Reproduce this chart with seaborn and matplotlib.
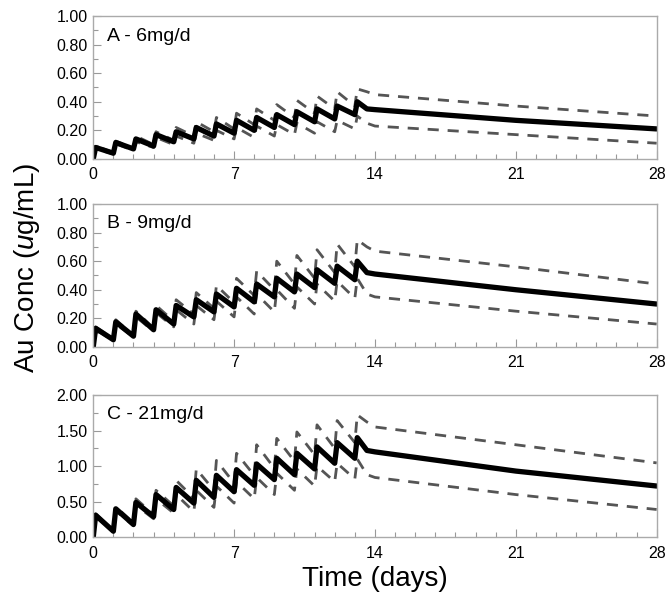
# Simulated gold (Au) plasma concentration, three dose levels
import numpy as np
import pandas as pd
import matplotlib
matplotlib.use("Agg")
import matplotlib.pyplot as plt
import seaborn as sns
from matplotlib.ticker import MultipleLocator, FormatStrFormatter

# ---- data ----
DOSE_DAYS = list(range(14))        # one dose per day, days 0..13
TAIL_DAYS = [13.6, 14, 21, 28]     # washout after the last dose

# panel A - 6 mg/d
A_MID_PEAK = [0.08, 0.115, 0.14, 0.17, 0.19, 0.22, 0.245, 0.27, 0.29, 0.31, 0.33, 0.35, 0.37, 0.40]
A_MID_TROUGH = [0.04, 0.07, 0.09, 0.12, 0.14, 0.16, 0.18, 0.20, 0.22, 0.24, 0.26, 0.28, 0.31]
A_MID_TAIL = [0.35, 0.345, 0.27, 0.21]
A_UP_PEAK = [0.09, 0.125, 0.16, 0.19, 0.22, 0.26, 0.29, 0.32, 0.35, 0.38, 0.41, 0.44, 0.47, 0.49]
A_UP_TROUGH = [0.045, 0.075, 0.10, 0.13, 0.16, 0.19, 0.21, 0.24, 0.27, 0.29, 0.32, 0.35, 0.37]
A_UP_TAIL = [0.47, 0.45, 0.37, 0.30]
A_LO_PEAK = [0.07, 0.105, 0.12, 0.15, 0.16, 0.18, 0.20, 0.22, 0.23, 0.24, 0.25, 0.26, 0.27, 0.30]
A_LO_TROUGH = [0.035, 0.06, 0.08, 0.10, 0.11, 0.13, 0.14, 0.15, 0.16, 0.17, 0.18, 0.19, 0.21]
A_LO_TAIL = [0.25, 0.23, 0.17, 0.11]

# panel B - 9 mg/d
B_MID_PEAK = [0.13, 0.175, 0.23, 0.26, 0.29, 0.33, 0.37, 0.41, 0.44, 0.48, 0.51, 0.54, 0.565, 0.60]
B_MID_TROUGH = [0.05, 0.075, 0.12, 0.16, 0.21, 0.245, 0.28, 0.315, 0.35, 0.385, 0.415, 0.445, 0.47]
B_MID_TAIL = [0.52, 0.51, 0.40, 0.30]
B_UP_PEAK = [0.14, 0.19, 0.25, 0.29, 0.33, 0.38, 0.43, 0.48, 0.53, 0.60, 0.64, 0.68, 0.72, 0.75]
B_UP_TROUGH = [0.055, 0.08, 0.13, 0.18, 0.23, 0.27, 0.31, 0.36, 0.40, 0.44, 0.48, 0.52, 0.56]
B_UP_TAIL = [0.70, 0.67, 0.56, 0.44]
B_LO_PEAK = [0.12, 0.16, 0.21, 0.24, 0.26, 0.29, 0.32, 0.35, 0.37, 0.40, 0.42, 0.44, 0.46, 0.48]
B_LO_TROUGH = [0.045, 0.07, 0.11, 0.14, 0.16, 0.19, 0.21, 0.23, 0.245, 0.27, 0.30, 0.32, 0.34]
B_LO_TAIL = [0.37, 0.35, 0.25, 0.16]

# panel C - 21 mg/d
C_MID_PEAK = [0.31, 0.40, 0.49, 0.60, 0.70, 0.80, 0.87, 0.95, 1.03, 1.11, 1.18, 1.27, 1.33, 1.40]
C_MID_TROUGH = [0.085, 0.18, 0.29, 0.39, 0.48, 0.56, 0.64, 0.73, 0.81, 0.88, 0.96, 1.04, 1.11]
C_MID_TAIL = [1.22, 1.20, 0.93, 0.72]
C_UP_PEAK = [0.33, 0.43, 0.54, 0.66, 0.80, 0.96, 1.08, 1.18, 1.30, 1.39, 1.48, 1.58, 1.64, 1.72]
C_UP_TROUGH = [0.09, 0.20, 0.32, 0.44, 0.55, 0.66, 0.76, 0.87, 0.97, 1.07, 1.16, 1.25, 1.33]
C_UP_TAIL = [1.62, 1.55, 1.30, 1.045]
C_LO_PEAK = [0.29, 0.37, 0.45, 0.54, 0.60, 0.66, 0.72, 0.78, 0.84, 0.90, 0.96, 1.00, 1.04, 1.10]
C_LO_TROUGH = [0.08, 0.16, 0.26, 0.34, 0.36, 0.42, 0.48, 0.54, 0.60, 0.66, 0.72, 0.78, 0.82]
C_LO_TAIL = [0.88, 0.84, 0.60, 0.39]

PANEL_LABELS = ["A - 6mg/d", "B - 9mg/d", "C - 21mg/d"]
Y_MAX = [1.0, 1.0, 2.0]
X_TICKS = [0, 7, 14, 21, 28]

PEAK_LAG = 0.12  # days from dose to peak


def build_curve(peaks, troughs, tail):
    t = [0.0]
    c = [0.0]
    for i, d in enumerate(DOSE_DAYS):
        if i > 0:
            t.append(d)
            c.append(troughs[i - 1])
        t.append(d + PEAK_LAG)
        c.append(peaks[i])
    t += TAIL_DAYS
    c += tail
    return pd.DataFrame({"time": t, "conc": c})


panels = [
    [(A_LO_PEAK, A_LO_TROUGH, A_LO_TAIL), (A_UP_PEAK, A_UP_TROUGH, A_UP_TAIL), (A_MID_PEAK, A_MID_TROUGH, A_MID_TAIL)],
    [(B_LO_PEAK, B_LO_TROUGH, B_LO_TAIL), (B_UP_PEAK, B_UP_TROUGH, B_UP_TAIL), (B_MID_PEAK, B_MID_TROUGH, B_MID_TAIL)],
    [(C_LO_PEAK, C_LO_TROUGH, C_LO_TAIL), (C_UP_PEAK, C_UP_TROUGH, C_UP_TAIL), (C_MID_PEAK, C_MID_TROUGH, C_MID_TAIL)],
]

# ---- plot ----
sns.set_style("ticks")
plt.rcParams["font.family"] = ["Liberation Sans", "DejaVu Sans"]
plt.rcParams["text.color"] = "black"
plt.rcParams["axes.labelcolor"] = "black"
plt.rcParams["mathtext.fontset"] = "custom"
plt.rcParams["mathtext.it"] = "Liberation Sans:italic"
plt.rcParams["mathtext.rm"] = "Liberation Sans"

fig = plt.figure(figsize=(6.66, 5.93), dpi=100)
boxes = [(0.732, 0.973), (0.415, 0.656), (0.094, 0.334)]

for k, (bottom, top) in enumerate(boxes):
    ax = fig.add_axes([0.140, bottom, 0.846, top - bottom])
    lo, up, mid = panels[k]
    for spec in (lo, up):
        df = build_curve(*spec)
        sns.lineplot(data=df, x="time", y="conc", sort=False, estimator=None,
                     color="#555555", lw=2.0, ax=ax)
        ax.lines[-1].set_dashes((4.0, 3.2))
    df = build_curve(*mid)
    sns.lineplot(data=df, x="time", y="conc", sort=False, estimator=None,
                 color="black", lw=3.8, ax=ax)
    ax.lines[-1].set_solid_capstyle("round")
    ax.lines[-1].set_solid_joinstyle("round")

    ax.set_xlim(0, 28)
    ax.set_ylim(0, Y_MAX[k])
    ax.set_xticks(X_TICKS)
    ax.xaxis.set_minor_locator(MultipleLocator(1))
    if k == 2:
        ax.yaxis.set_major_locator(MultipleLocator(0.5))
        ax.yaxis.set_minor_locator(MultipleLocator(0.25))
    else:
        ax.yaxis.set_major_locator(MultipleLocator(0.2))
        ax.yaxis.set_minor_locator(MultipleLocator(0.1))
    ax.yaxis.set_major_formatter(FormatStrFormatter("%.2f"))
    ax.tick_params(which="both", direction="in", color="#999999", labelsize=11.5,
                   labelcolor="black", bottom=True, left=True,
                   top=False, right=False)
    ax.tick_params(axis="x", pad=6)
    ax.tick_params(axis="y", pad=4)
    ax.tick_params(which="major", length=6, width=0.8)
    ax.tick_params(which="minor", length=3.5, width=0.8)
    for s in ax.spines.values():
        s.set_color("#aaaaaa")
        s.set_linewidth(1.0)
    ax.set_xlabel("")
    ax.set_ylabel("")
    ax.text(0.025, 0.86, PANEL_LABELS[k], transform=ax.transAxes, fontsize=14,
            ha="left", va="center", color="black")
    if k == 2:
        ax.set_xlabel("Time (days)", fontsize=20, labelpad=4, color="black")

fig.text(0.018, 0.548, r"Au Conc ($\mathit{u}$g/mL)", rotation=90, fontsize=20,
         ha="left", va="center", color="black")

fig.savefig("out.png", dpi=100)
